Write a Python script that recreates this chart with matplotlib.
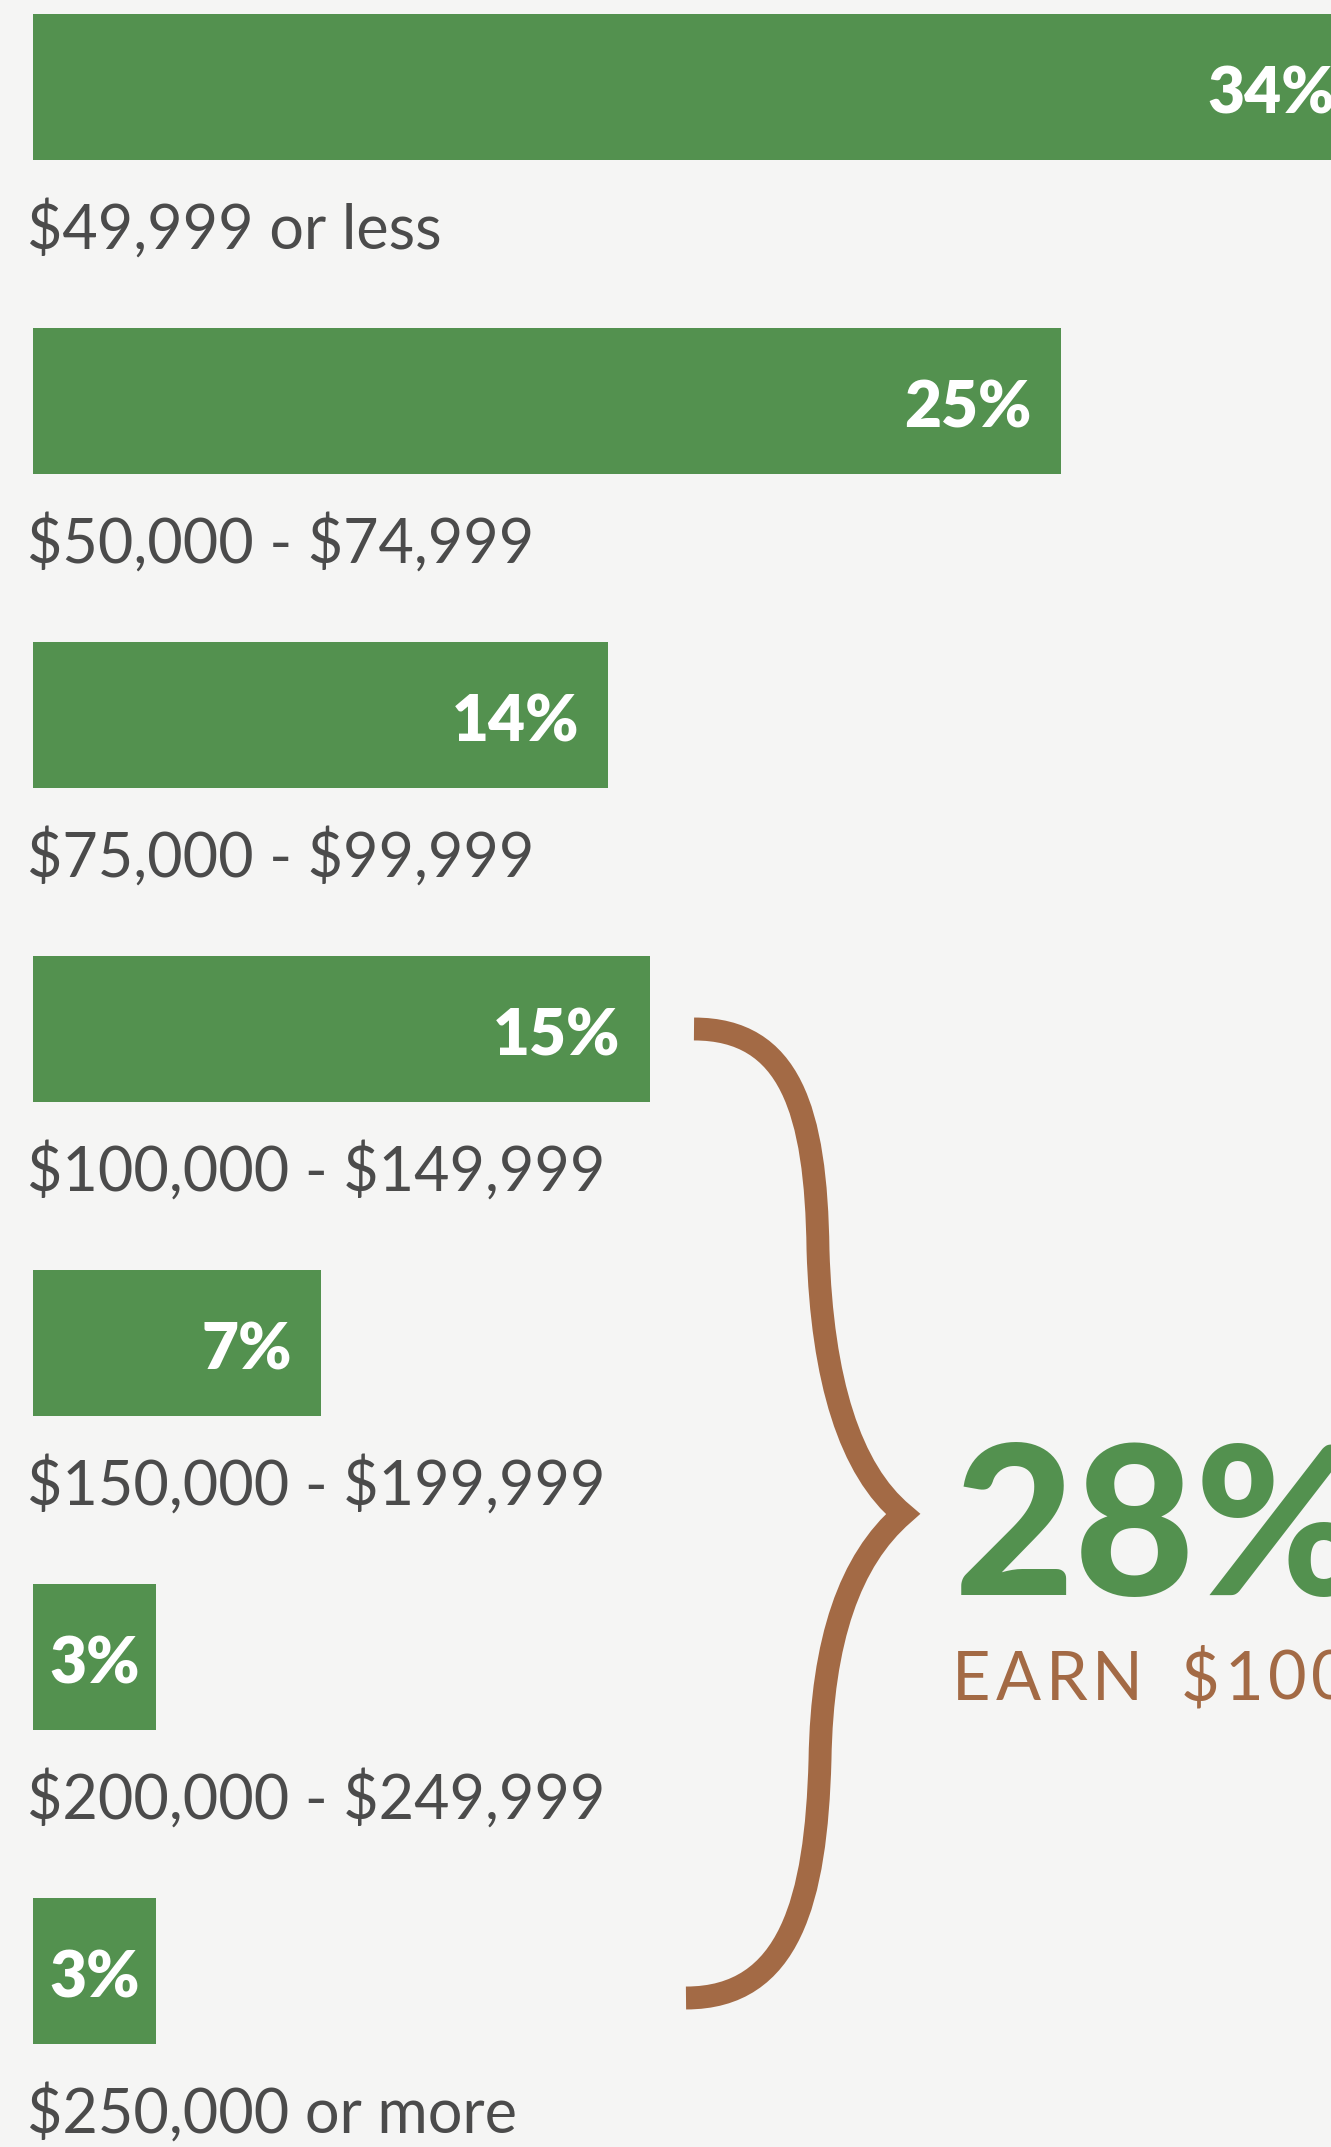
import matplotlib
matplotlib.use("Agg")
import matplotlib.pyplot as plt
from matplotlib.path import Path
from matplotlib.patches import PathPatch

plt.rcParams["text.parse_math"] = False

categories = ["$49,999 or less", "$50,000 - $74,999", "$75,000 - $99,999",
              "$100,000 - $149,999", "$150,000 - $199,999", "$200,000 - $249,999",
              "$250,000 or more"]
values = [34, 25, 14, 15, 7, 3, 3]
value_labels = ["34%", "25%", "14%", "15%", "7%", "3%", "3%"]
summary_value = "28%"
summary_text = "EARN $100,000 OR MORE"

GREEN = "#53914f"
BROWN = "#a36a45"
GRAY = "#4b4b4b"
BG = "#f5f5f4"

W, H, DPI = 1331, 2147, 100
fig = plt.figure(figsize=(W / DPI, H / DPI), dpi=DPI, facecolor=BG)
ax = fig.add_axes([0, 0, 1, 1])
ax.set_facecolor(BG)
ax.axis("off")

px_per_unit_x = 41.1
left_px = 33
px_per_row = 314
top_px = 87
xmin = -left_px / px_per_unit_x
xmax = (W - left_px) / px_per_unit_x
ax.set_xlim(xmin, xmax)
ax.set_ylim((H - top_px) / px_per_row, -top_px / px_per_row)

ys = list(range(len(values)))
ax.barh(ys, values, height=0.468, color=GREEN, left=0)

fam = ["Lato", "DejaVu Sans"]
for i, (v, lab, cat) in enumerate(zip(values, value_labels, categories)):
    if v <= 3:
        ax.text(v / 2, i + 0.085, lab, ha="center", va="baseline", color="white",
                fontsize=46, fontweight="heavy", family=fam)
    else:
        xr = min(v - 29 / px_per_unit_x, xmax + 0.1)
        ax.text(xr, i + 0.085, lab, ha="right", va="baseline", color="white",
                fontsize=46, fontweight="heavy", family=fam)
    ax.text(-0.15, i + 0.516, cat, ha="left", va="baseline", color=GRAY,
            fontsize=44, family=fam)

# curly brace (full-size pixel geometry converted to data units)
def bx(px):
    return (px - left_px) / px_per_unit_x

def by(py):
    return (py - top_px) / px_per_row

pts = [
    (694, 1029), (790, 1029), (816, 1110), (818, 1250),
    (822, 1380), (850, 1470), (903, 1514),
    (850, 1560), (822, 1640), (820, 1760),
    (816, 1900), (790, 1998), (686, 1998),
]
codes = [Path.MOVETO, Path.CURVE4, Path.CURVE4, Path.CURVE4,
         Path.CURVE4, Path.CURVE4, Path.CURVE4,
         Path.CURVE4, Path.CURVE4, Path.CURVE4,
         Path.CURVE4, Path.CURVE4, Path.CURVE4]
verts = [(bx(x), by(y)) for x, y in pts]
brace = PathPatch(Path(verts, codes), facecolor="none", edgecolor=BROWN,
                  linewidth=16.5, joinstyle="miter", capstyle="butt")
ax.add_patch(brace)

ax.text(bx(954), by(1595), summary_value, ha="left", va="baseline", color=GREEN,
        fontsize=150, fontweight="black", family=fam)

# letter-spaced caption
fig.canvas.draw()
renderer = fig.canvas.get_renderer()
x = 952.0
base_y = H - 1700
for ch in summary_text:
    if ch == " ":
        x += 32
        continue
    t = fig.text(x / W, base_y / H, ch, ha="left", va="baseline", color=BROWN,
                 fontsize=48, fontweight="normal", family=fam)
    x += t.get_window_extent(renderer).width + 5

fig.savefig("out.png", dpi=DPI, facecolor=BG)
